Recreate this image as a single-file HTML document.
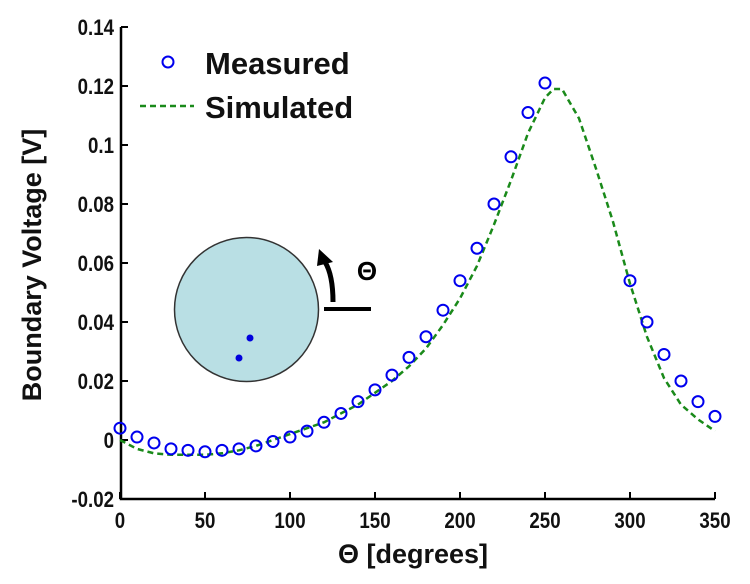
<!DOCTYPE html>
<html><head><meta charset="utf-8"><style>
html,body{margin:0;padding:0;background:#fff;}
svg{display:block;font-family:"Liberation Sans",Arial,sans-serif;font-weight:bold;}
</style></head><body>
<svg id="chart" width="750" height="584" viewBox="0 0 750 584">
<g id="axes"></g>
<g id="marks"></g>
<g>
  <circle cx="168" cy="62" r="5.5" fill="none" stroke="#0000ee" stroke-width="2"/>
  <text x="205" y="74" font-size="31" fill="#111">Measured</text>
  <line x1="140" y1="106" x2="194" y2="106" stroke="#1a8a1a" stroke-width="2.5" stroke-dasharray="6,4"/>
  <text x="205" y="118" font-size="31" fill="#111">Simulated</text>
</g>
<g>
  <circle cx="246.5" cy="309.5" r="72" fill="#b9dfe4" stroke="#333" stroke-width="1.5"/>
  <circle cx="250" cy="338" r="3.5" fill="#0000dd"/>
  <circle cx="239" cy="358" r="3.5" fill="#0000dd"/>
  <line x1="324" y1="309" x2="371" y2="309" stroke="#000" stroke-width="4"/>
  <path d="M333 302 Q333 275 325 262" fill="none" stroke="#000" stroke-width="5"/>
  <polygon points="319,249 333,262 317,266" fill="#000"/>
  <text x="367" y="280" font-size="26" text-anchor="middle" fill="#000">Θ</text>
</g>
<text transform="translate(41,265) rotate(-90)" text-anchor="middle" font-size="27" fill="#111">Boundary Voltage [V]</text>
<text x="413" y="563" text-anchor="middle" font-size="27" fill="#111">Θ [degrees]</text>
</svg>
<script>
const xTicks=[0,50,100,150,200,250,300,350];
const yTicks=[-0.02,0,0.02,0.04,0.06,0.08,0.1,0.12,0.14];
const yTickLabels=["-0.02","0","0.02","0.04","0.06","0.08","0.1","0.12","0.14"];
const measuredAngles=[0,10,20,30,40,50,60,70,80,90,100,110,120,130,140,150,160,170,180,190,200,210,220,230,240,250,300,310,320,330,340,350];
const measuredValues=[0.004,0.001,-0.001,-0.003,-0.0035,-0.004,-0.0035,-0.003,-0.002,-0.0005,0.001,0.003,0.006,0.009,0.013,0.017,0.022,0.028,0.035,0.044,0.054,0.065,0.080,0.096,0.111,0.121,0.054,0.040,0.029,0.020,0.013,0.008];
const simAngles=[0,10,20,30,40,50,60,70,80,90,100,110,120,130,140,150,160,170,180,190,200,210,220,230,240,250,255,260,270,280,290,300,310,320,330,340,350];
const simValues=[0,-0.003,-0.0045,-0.005,-0.005,-0.005,-0.0045,-0.0035,-0.002,0,0.002,0.004,0.006,0.009,0.012,0.016,0.02,0.025,0.031,0.039,0.048,0.059,0.073,0.088,0.104,0.116,0.119,0.119,0.109,0.092,0.074,0.053,0.035,0.021,0.012,0.007,0.003];
const NS="http://www.w3.org/2000/svg";
function X(v){return 120+v*(595/350);}
function Y(v){return 499-(v+0.02)*(472/0.16);}
function mk(t,a,p){const e=document.createElementNS(NS,t);for(const k in a)e.setAttribute(k,a[k]);p.appendChild(e);return e;}
const axes=document.getElementById('axes'),marks=document.getElementById('marks');
let el=mk('path',{d:`M121 ${Y(0.14)} V499 H${X(350)}`,fill:'none',stroke:'#000','stroke-width':2.5},axes);


xTicks.forEach(t=>{
  let l=mk('line',{x1:X(t),x2:X(t),y1:499,y2:492,stroke:'#000','stroke-width':2},axes);
  
  
  let tx=mk('text',{'text-anchor':'middle','font-size':22,fill:'#111',transform:`translate(${X(t)},528) scale(0.85,1)`},axes);
  tx.textContent=t;
  
  
});
yTicks.forEach((t,i)=>{
  let l=mk('line',{x1:121,x2:128,y1:Y(t),y2:Y(t),stroke:'#000','stroke-width':2},axes);
  
  
  let tx=mk('text',{'text-anchor':'end','font-size':22,fill:'#111',transform:`translate(114,${Y(t)+8}) scale(0.85,1)`},axes);
  tx.textContent=yTickLabels[i];
  
  
});
let d=simAngles.map((a,i)=>(i?'L':'M')+X(a).toFixed(1)+' '+Y(simValues[i]).toFixed(1)).join(' ');
let sl=mk('path',{d:d,fill:'none',stroke:'#1a8a1a','stroke-width':2.5,'stroke-dasharray':'6,4'},marks);


measuredAngles.forEach((a,i)=>{
  let c=mk('circle',{cx:X(a),cy:Y(measuredValues[i]),r:5.5,fill:'none',stroke:'#0000ee','stroke-width':2},marks);
  
  
});
</script>
</body></html>
